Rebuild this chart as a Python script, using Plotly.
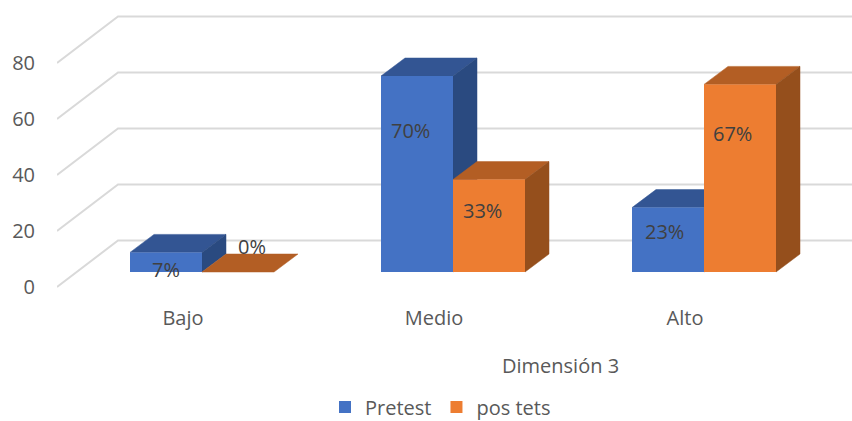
import plotly.graph_objects as go

categories = ['Bajo', 'Medio', 'Alto']
series_names = ['Pretest', 'pos tets']
pretest = [7, 70, 23]
postest = [0, 33, 67]
pretest_labels = ['7%', '70%', '23%']
postest_labels = ['0%', '33%', '67%']
value_ticks = [0, 20, 40, 60, 80]

# layout constants, pixels of the 852x421 page
WIDTH, HEIGHT = 852, 421
PX_X = 251  # one category
PX_Y = 2.8  # one value unit
LEFT, BOTTOM = 57, 300
ZERO_X, ZERO_Y = 202, 287

BAR_W = 72 / PX_X
BAR_BASE = 15 / PX_Y
DEPTH_X, DEPTH_Y = 24 / PX_X, 18 / PX_Y
WALL_X, WALL_Y = 61 / PX_X, 46.5 / PX_Y
x_range = [(LEFT - ZERO_X) / PX_X, (WIDTH - ZERO_X) / PX_X]
y_range = [(ZERO_Y - BOTTOM) / PX_Y, ZERO_Y / PX_Y]

FONT = 'Open Sans'
TEXT = '#595959'
LABEL = '#404040'
GRID = '#D9D9D9'
COLORS = [
    {'front': '#4472C4', 'top': '#335593', 'side': '#2A4A80'},
    {'front': '#ED7D31', 'top': '#B35E24', 'side': '#954F1C'},
]

# label shift from the top centre of each front face, pixels
pretest_shift = [(0, -17), (-7, -54), (-4, -24)]
postest_shift = [(14, 26), (-7, -31), (-8, -49)]

fig = go.Figure()

# walls and floor
for v in value_ticks:
    fig.add_trace(go.Scatter(
        x=[x_range[0], x_range[0] + WALL_X, x_range[1]],
        y=[v, v + WALL_Y, v + WALL_Y],
        mode='lines', line=dict(color=GRID, width=2),
        showlegend=False, hoverinfo='skip'))


def add_face(xs, ys, color):
    fig.add_trace(go.Scatter(
        x=xs, y=ys, mode='lines', fill='toself', fillcolor=color,
        line=dict(color=color, width=0.5),
        showlegend=False, hoverinfo='skip'))


# top and side faces, first series first so the second one covers it
for s, values in enumerate([pretest, postest]):
    for i, v in enumerate(values):
        x0 = i - BAR_W + s * BAR_W
        x1 = x0 + BAR_W
        y0 = BAR_BASE
        y1 = BAR_BASE + v
        add_face([x0, x1, x1 + DEPTH_X, x0 + DEPTH_X, x0],
                 [y1, y1, y1 + DEPTH_Y, y1 + DEPTH_Y, y1], COLORS[s]['top'])
        if v > 0:
            add_face([x1, x1 + DEPTH_X, x1 + DEPTH_X, x1, x1],
                     [y0, y0 + DEPTH_Y, y1 + DEPTH_Y, y1, y0], COLORS[s]['side'])

# front faces live on an overlay so they cover the side faces
for s, values in enumerate([pretest, postest]):
    fig.add_trace(go.Bar(
        x=list(range(len(categories))), y=values, base=BAR_BASE,
        name=series_names[s], marker=dict(color=COLORS[s]['front'], line=dict(width=0)),
        xaxis='x2', yaxis='y2'))

# data labels
for s, (values, labels, shifts) in enumerate([(pretest, pretest_labels, pretest_shift),
                                              (postest, postest_labels, postest_shift)]):
    for i, v in enumerate(values):
        fig.add_annotation(
            x=i - BAR_W / 2 + s * BAR_W, y=BAR_BASE + v, text=labels[i],
            showarrow=False, xshift=shifts[i][0], yshift=shifts[i][1],
            font=dict(family=FONT, size=20, color=LABEL))

fig.add_annotation(
    xref='paper', yref='paper', x=(560 - LEFT) / (WIDTH - LEFT), y=(BOTTOM - 365) / BOTTOM,
    xanchor='center', yanchor='middle',
    text='Dimensión 3', showarrow=False, font=dict(family=FONT, size=20, color=TEXT))

fig.update_layout(
    width=WIDTH, height=HEIGHT,
    margin=dict(l=LEFT, r=0, t=0, b=HEIGHT - BOTTOM, pad=0),
    paper_bgcolor='white', plot_bgcolor='white',
    barmode='group', bargap=1 - 2 * BAR_W, bargroupgap=0,
    font=dict(family=FONT, size=20, color=TEXT),
    xaxis=dict(range=x_range, tickvals=[i - 19 / PX_X for i in range(len(categories))],
               ticktext=categories, showgrid=False, zeroline=False, showline=False,
               ticks='', ticklabelstandoff=4),
    yaxis=dict(range=y_range, tickvals=value_ticks, showgrid=False, zeroline=False,
               showline=False, ticks='', ticklabelstandoff=21),
    xaxis2=dict(range=x_range, overlaying='x', visible=False),
    yaxis2=dict(range=y_range, overlaying='y', visible=False),
    legend=dict(orientation='h', xanchor='left', yanchor='middle',
                xref='container', yref='container',
                x=325 / WIDTH, y=1 - 407 / HEIGHT,
                font=dict(family=FONT, size=20, color=TEXT), bgcolor='rgba(0,0,0,0)'),
)

# page margin off, so the figure fills the window
fig.write_html('out.html', config={'displayModeBar': False},
               post_script="document.body.style.margin='0';")
